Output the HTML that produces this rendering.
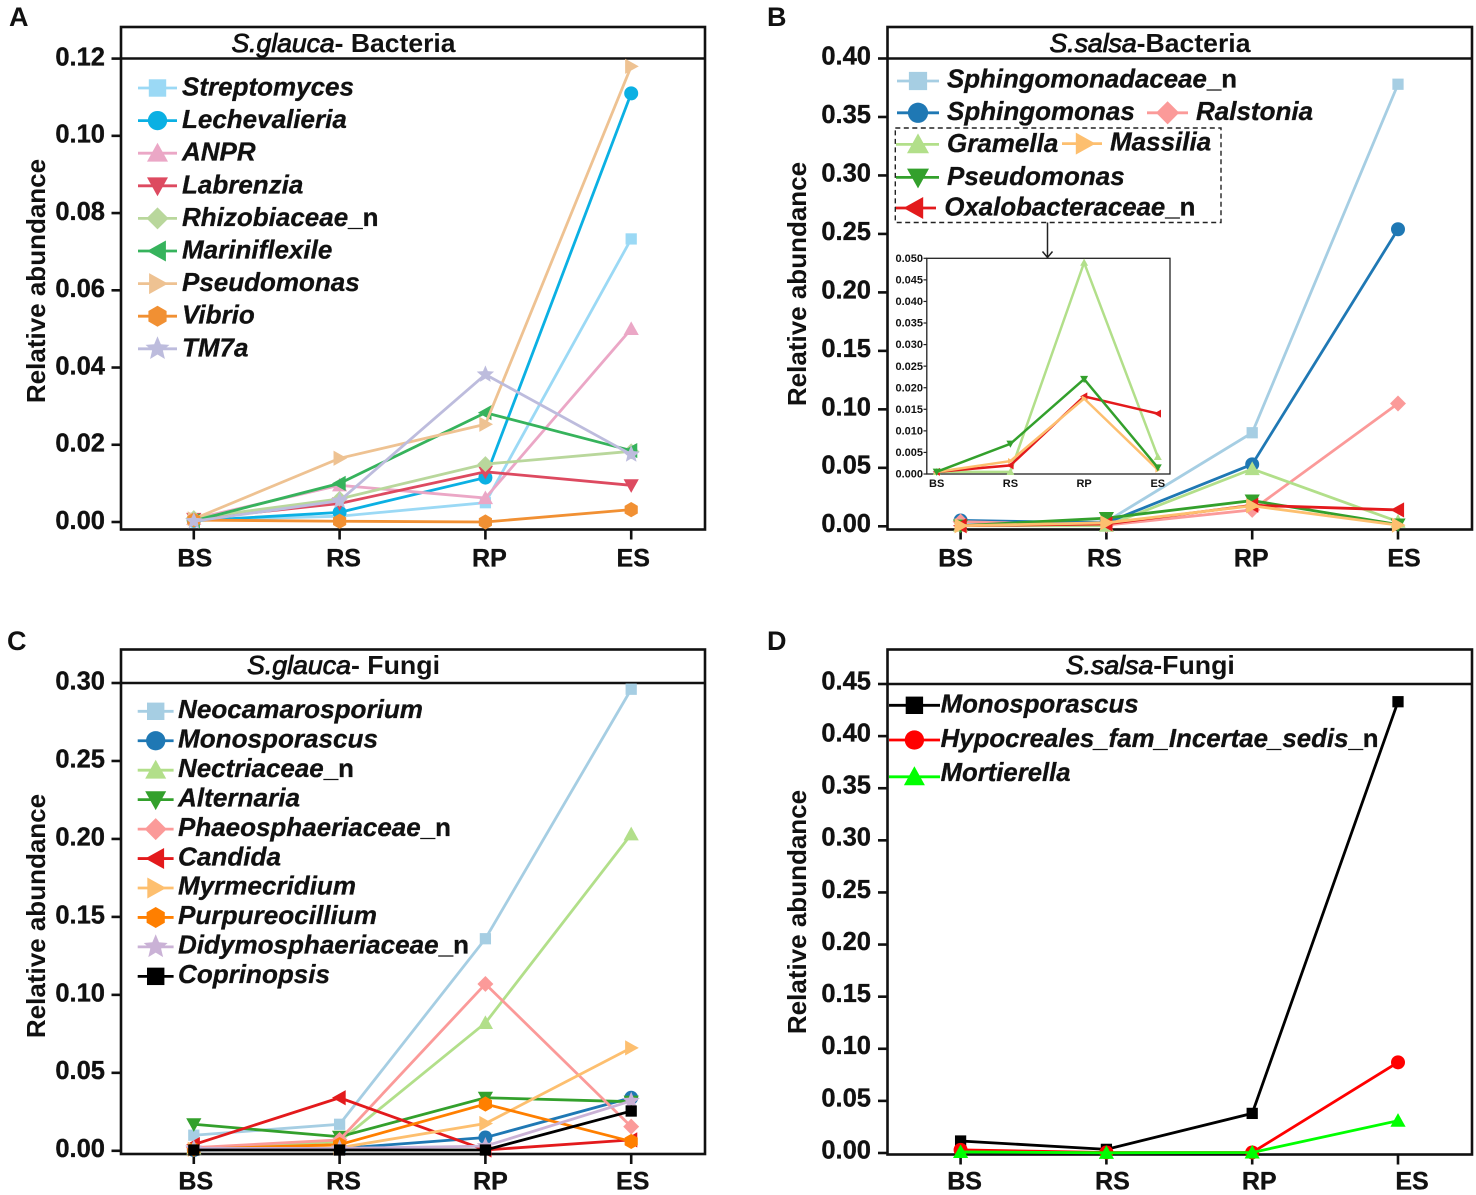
<!DOCTYPE html>
<html lang="en">
<head>
<meta charset="utf-8">
<title>Relative abundance charts</title>
<style>
html,body{margin:0;padding:0;background:#fff}
svg{display:block}
text{font-family:"Liberation Sans",Arial,sans-serif;fill:#111}
.tick{font-size:25.5px;font-weight:700;stroke:#111;stroke-width:.35px}
.cat{font-size:25px;font-weight:700;stroke:#111;stroke-width:.35px}
.ytitle{font-size:26px;font-weight:700}
.letter{font-size:27px;font-weight:700}
.leg{font-size:26px;font-weight:700;font-style:italic;stroke:#111;stroke-width:.3px}
.leg .up{font-style:normal}
.ttl{font-size:26px;font-weight:700}
.ttl .sp{font-style:italic;font-weight:400;stroke:#111;stroke-width:.85px}
.in{font-size:11px;font-weight:700}
</style>
</head>
<body>
<svg id="figure" width="1476" height="1195" viewBox="0 0 1476 1195" xmlns="http://www.w3.org/2000/svg">
  <rect width="1476" height="1195" fill="#fff"/>

  <text class="letter" x="9" y="26">A</text>
  <text class="letter" x="767" y="26">B</text>
  <text class="letter" x="7" y="650">C</text>
  <text class="letter" x="767" y="650">D</text>

  <g id="panel-a">
    <rect x="121" y="27" width="584" height="502.5" fill="none" stroke="#111" stroke-width="2.6"/>
    <line x1="121" y1="58.5" x2="705" y2="58.5" stroke="#111" stroke-width="2.6"/>
    <text class="ttl" x="231.5" y="52" textLength="224" lengthAdjust="spacingAndGlyphs"><tspan class="sp">S.glauca</tspan>- Bacteria</text>
    <text class="ytitle" transform="translate(45,281) rotate(-90)" text-anchor="middle">Relative abundance</text>
    <g id="a-legend">
      <text class="leg" x="182" y="95.5">Streptomyces</text>
      <text class="leg" x="182" y="128.1">Lechevalieria</text>
      <text class="leg" x="182" y="160.7">ANPR</text>
      <text class="leg" x="182" y="193.3">Labrenzia</text>
      <text class="leg" x="182" y="225.9">Rhizobiaceae<tspan class="up">_n</tspan></text>
      <text class="leg" x="182" y="258.5">Mariniflexile</text>
      <text class="leg" x="182" y="291.1">Pseudomonas</text>
      <text class="leg" x="182" y="323.7">Vibrio</text>
      <text class="leg" x="182" y="356.3">TM7a</text>
    </g>
  </g>

  <g id="panel-b">
    <rect x="887.5" y="27" width="584.5" height="502.5" fill="none" stroke="#111" stroke-width="2.6"/>
    <line x1="887.5" y1="58.5" x2="1472" y2="58.5" stroke="#111" stroke-width="2.6"/>
    <text class="ttl" x="1049.5" y="52" textLength="201" lengthAdjust="spacingAndGlyphs"><tspan class="sp">S.salsa</tspan>-Bacteria</text>
    <text class="ytitle" transform="translate(806,284) rotate(-90)" text-anchor="middle">Relative abundance</text>
    <g id="b-legend">
      <text class="leg" x="947" y="87.6" textLength="290" lengthAdjust="spacingAndGlyphs">Sphingomonadaceae<tspan class="up">_n</tspan></text>
      <text class="leg" x="947" y="119.8">Sphingomonas</text>
      <text class="leg" x="1196" y="119.8">Ralstonia</text>
      <text class="leg" x="947" y="152">Gramella</text>
      <text class="leg" x="1110" y="150.4">Massilia</text>
      <text class="leg" x="947" y="185">Pseudomonas</text>
      <text class="leg" x="944.4" y="215.4" textLength="251" lengthAdjust="spacingAndGlyphs">Oxalobacteraceae<tspan class="up">_n</tspan></text>
    </g>
    <rect x="895.3" y="128" width="325.7" height="94.5" fill="none" stroke="#222" stroke-width="1.4" stroke-dasharray="5 3.5"/>
    <path d="M1047.5 222.5V257.5M1042.5 251.5L1047.5 257.5L1052.5 251.5" fill="none" stroke="#222" stroke-width="1.5"/>
    <rect x="926.8" y="258.3" width="243.2" height="215.7" fill="#fff" stroke="#222" stroke-width="1.3"/>
  </g>

  <g id="panel-c">
    <rect x="121" y="649.5" width="584" height="504.5" fill="none" stroke="#111" stroke-width="2.6"/>
    <line x1="121" y1="683" x2="705" y2="683" stroke="#111" stroke-width="2.6"/>
    <text class="ttl" x="247" y="674" textLength="193" lengthAdjust="spacingAndGlyphs"><tspan class="sp">S.glauca</tspan>- Fungi</text>
    <text class="ytitle" transform="translate(45,916) rotate(-90)" text-anchor="middle">Relative abundance</text>
    <g id="c-legend">
      <text class="leg" x="178" y="718" textLength="245" lengthAdjust="spacingAndGlyphs">Neocamarosporium</text>
      <text class="leg" x="178" y="747.5" textLength="200" lengthAdjust="spacingAndGlyphs">Monosporascus</text>
      <text class="leg" x="178" y="776.9" textLength="176" lengthAdjust="spacingAndGlyphs">Nectriaceae<tspan class="up">_n</tspan></text>
      <text class="leg" x="178" y="806.4" textLength="122" lengthAdjust="spacingAndGlyphs">Alternaria</text>
      <text class="leg" x="178" y="835.8" textLength="273" lengthAdjust="spacingAndGlyphs">Phaeosphaeriaceae<tspan class="up">_n</tspan></text>
      <text class="leg" x="178" y="865.3" textLength="103" lengthAdjust="spacingAndGlyphs">Candida</text>
      <text class="leg" x="178" y="894.7" textLength="178" lengthAdjust="spacingAndGlyphs">Myrmecridium</text>
      <text class="leg" x="178" y="924.2" textLength="199" lengthAdjust="spacingAndGlyphs">Purpureocillium</text>
      <text class="leg" x="178" y="953.6" textLength="291" lengthAdjust="spacingAndGlyphs">Didymosphaeriaceae<tspan class="up">_n</tspan></text>
      <text class="leg" x="178" y="983.1" textLength="152" lengthAdjust="spacingAndGlyphs">Coprinopsis</text>
    </g>
  </g>

  <g id="panel-d">
    <rect x="887.5" y="649.5" width="584.5" height="505" fill="none" stroke="#111" stroke-width="2.6"/>
    <line x1="887.5" y1="684" x2="1472" y2="684" stroke="#111" stroke-width="2.6"/>
    <text class="ttl" x="1065.8" y="674" textLength="169" lengthAdjust="spacingAndGlyphs"><tspan class="sp">S.salsa</tspan>-Fungi</text>
    <text class="ytitle" transform="translate(806,912) rotate(-90)" text-anchor="middle">Relative abundance</text>
    <g id="d-legend">
      <text class="leg" x="940.6" y="712.6" textLength="198" lengthAdjust="spacingAndGlyphs">Monosporascus</text>
      <text class="leg" x="940.6" y="747" textLength="438" lengthAdjust="spacingAndGlyphs">Hypocreales_fam_Incertae_sedis<tspan class="up">_n</tspan></text>
      <text class="leg" x="940.6" y="781" textLength="130" lengthAdjust="spacingAndGlyphs">Mortierella</text>
    </g>
  </g>
</svg>

<script>
// ---- shared ----
const categories = ['BS', 'RS', 'RP', 'ES'];

// ---- panel A: S.glauca bacteria ----
const aTicks = ['0.00', '0.02', '0.04', '0.06', '0.08', '0.10', '0.12'];
const aStreptomyces = [0.0005, 0.0015, 0.005, 0.0733];
const aLechevalieria = [0.0003, 0.0025, 0.0115, 0.111];
const aAnpr = [0.0008, 0.0095, 0.0062, 0.05];
const aLabrenzia = [0.0008, 0.0048, 0.013, 0.0095];
const aRhizobiaceae = [0.001, 0.006, 0.015, 0.0183];
const aMariniflexile = [0.0003, 0.01, 0.0283, 0.0185];
const aPseudomonas = [0.0008, 0.0165, 0.0253, 0.118];
const aVibrio = [0.0005, 0.0002, 0, 0.0032];
const aTm7a = [0.0002, 0.0055, 0.0382, 0.0175];

// ---- panel B: S.salsa bacteria ----
const bTicks = ['0.00', '0.05', '0.10', '0.15', '0.20', '0.25', '0.30', '0.35', '0.40'];
const bInsetTicks = ['0.000', '0.005', '0.010', '0.015', '0.020', '0.025', '0.030', '0.035', '0.040', '0.045', '0.050'];
const bSphingomonadaceae = [0.003, 0.004, 0.08, 0.378];
const bSphingomonas = [0.005, 0.003, 0.053, 0.254];
const bRalstonia = [0.004, 0.001, 0.014, 0.105];
const bGramella = [0.0005, 0.0005, 0.049, 0.004];
const bMassilia = [0.0005, 0.003, 0.0175, 0.001];
const bPseudomonas = [0.0005, 0.007, 0.022, 0.0015];
const bOxalobacteraceae = [0.0005, 0.002, 0.018, 0.014];

// ---- panel C: S.glauca fungi ----
const cTicks = ['0.00', '0.05', '0.10', '0.15', '0.20', '0.25', '0.30'];
const cNeocamarosporium = [0.01, 0.017, 0.136, 0.296];
const cMonosporascus = [0.0005, 0.0015, 0.0085, 0.034];
const cNectriaceae = [0.0015, 0.006, 0.082, 0.203];
const cAlternaria = [0.017, 0.009, 0.034, 0.0315];
const cPhaeosphaeriaceae = [0.002, 0.007, 0.107, 0.0155];
const cCandida = [0.004, 0.034, 0.0005, 0.007];
const cMyrmecridium = [0.001, 0.002, 0.0175, 0.066];
const cPurpureocillium = [0.001, 0.004, 0.03, 0.006];
const cDidymosphaeriaceae = [0.0015, 0.0015, 0.003, 0.032];
const cCoprinopsis = [0.0005, 0.0005, 0.0005, 0.0255];

// ---- panel D: S.salsa fungi ----
const dTicks = ['0.00', '0.05', '0.10', '0.15', '0.20', '0.25', '0.30', '0.35', '0.40', '0.45'];
const dMonosporascus = [0.0115, 0.0035, 0.038, 0.433];
const dHypocreales = [0.003, 0.0005, 0.0005, 0.087];
const dMortierella = [0.001, 0.0002, 0.0005, 0.031];

// ---- drawing ----
const NS = 'http://www.w3.org/2000/svg';
function make(tag, attrs, parent) {
  const node = document.createElementNS(NS, tag);
  for (const k in attrs) node.setAttribute(k, attrs[k]);
  parent.appendChild(node);
  return node;
}
function pts(list) {
  return list.map(function (p) { return p[0].toFixed(2) + ',' + p[1].toFixed(2); }).join(' ');
}
function star(cx, cy, r) {
  const out = [];
  for (let i = 0; i < 10; i++) {
    const rad = i % 2 ? r * 0.45 : r;
    const a = -Math.PI / 2 + i * Math.PI / 5;
    out.push([cx + rad * Math.cos(a), cy + rad * Math.sin(a)]);
  }
  return out;
}
function hexagon(cx, cy, r) {
  const out = [];
  for (let i = 0; i < 6; i++) {
    const a = -Math.PI / 2 + i * Math.PI / 3;
    out.push([cx + r * Math.cos(a), cy + r * Math.sin(a)]);
  }
  return out;
}
function drawMarker(type, cx, cy, r, color, parent) {
  if (type === 'circle') return make('circle', { cx: cx, cy: cy, r: r * 0.92, fill: color }, parent);
  if (type === 'square' ) {
    const s = r * 0.74;
    return make('rect', { x: cx - s, y: cy - s, width: 2 * s, height: 2 * s, fill: color }, parent);
  }
  let p;
  if (type === 'up') p = [[cx, cy - r], [cx + r, cy + r * 0.8], [cx - r, cy + r * 0.8]];
  if (type === 'down') p = [[cx, cy + r], [cx + r, cy - r * 0.8], [cx - r, cy - r * 0.8]];
  if (type === 'left') p = [[cx - r, cy], [cx + r * 0.8, cy - r], [cx + r * 0.8, cy + r]];
  if (type === 'right') p = [[cx + r, cy], [cx - r * 0.8, cy - r], [cx - r * 0.8, cy + r]];
  if (type === 'diamond') p = [[cx, cy - r * 1.05], [cx + r * 1.05, cy], [cx, cy + r * 1.05], [cx - r * 1.05, cy]];
  if (type === 'hexagon') p = hexagon(cx, cy, r);
  if (type === 'star') p = star(cx, cy, r * 1.2);
  return make('polygon', { points: pts(p), fill: color }, parent);
}
function slug(name) {
  return name.toLowerCase().replace(/[^a-z0-9]+/g, '-').replace(/^-|-$/g, '');
}
function linearY(px0, pxTop, maxValue) {
  return function (v) { return px0 + (pxTop - px0) * v / maxValue; };
}
function bandX(first, step) {
  return function (i) { return first + i * step; };
}

function drawAxes(root, xf, yf, ticks, tickX0, labelRight, labelDy, axisY, catOffsets, catY) {
  ticks.forEach(function (label) {
    const y = yf(parseFloat(label));
    const t = make('line', { x1: tickX0 - 9.5, x2: tickX0, y1: y, y2: y, stroke: '#111', 'stroke-width': 2.6 }, root);
    
    
    const lab = make('text', { class: 'tick', x: labelRight, y: y + labelDy, 'text-anchor': 'end' }, root);
    lab.textContent = label;
    
    
  });
  categories.forEach(function (label, i) {
    const x = xf(i);
    const t = make('line', { x1: x, x2: x, y1: axisY, y2: axisY + 10, stroke: '#111', 'stroke-width': 2.6 }, root);
    
    
    const lab = make('text', { class: 'cat', x: x + catOffsets[i], y: catY, 'text-anchor': 'middle' }, root);
    lab.textContent = label;
    
    
  });
}

function drawSeries(root, name, values, color, marker, xf, yf, width, r) {
  const g = make('g', {}, root);
  
  
  const line = make('polyline', {
    points: pts(values.map(function (v, i) { return [xf(i), yf(v)]; })),
    fill: 'none', stroke: color, 'stroke-width': width, 'stroke-linejoin': 'miter'
  }, g);
  
  
  values.forEach(function (v, i) {
    const m = drawMarker(marker, xf(i), yf(v), r, color, g);
    
    
  });
}

function drawHandle(root, color, marker, x1, x2, cx, y, r) {
  const g = make('g', {}, root);
  
  
  make('line', { x1: x1, x2: x2, y1: y, y2: y, stroke: color, 'stroke-width': 2.8 }, g);
  drawMarker(marker, cx, y, marker === 'square' ? r * 1.12 : r, color, g);
}

const el = function (id) { return document.getElementById(id); };

// Panel A
(function () {
  const root = el('panel-a');
  const xf = bandX(193.8, 145.8);
  const yf = linearY(522, 58.6, 0.12);
  drawAxes(root, xf, yf, aTicks, 121, 105, 6.8, 529.5, [1, 4, 4, 2], 566.5);
  const names = ['Streptomyces', 'Lechevalieria', 'ANPR', 'Labrenzia', 'Rhizobiaceae_n', 'Mariniflexile', 'Pseudomonas', 'Vibrio', 'TM7a'];
  const vals = [aStreptomyces, aLechevalieria, aAnpr, aLabrenzia, aRhizobiaceae, aMariniflexile, aPseudomonas, aVibrio, aTm7a];
  const colors = ['#9bd9f5', '#0bb0e3', '#eba7c6', '#dd4a60', '#b9d79c', '#36b35c', '#eec292', '#f19033', '#bdbcdd'];
  const marks = ['square', 'circle', 'up', 'down', 'diamond', 'left', 'right', 'hexagon', 'star'];
  names.forEach(function (n, i) { drawSeries(root, n, vals[i], colors[i], marks[i], xf, yf, 2.8, 7.6); });
  names.forEach(function (n, i) { drawHandle(el('a-legend'), colors[i], marks[i], 138, 177, 157.5, 88 + 32.6 * i, 10.5); });
})();

// Panel B
(function () {
  const root = el('panel-b');
  const xf = bandX(960.6, 145.8);
  const yf = linearY(526.3, 58.5, 0.4);
  drawAxes(root, xf, yf, bTicks, 887.5, 871, 5.9, 529.5, [-5, -2, -1, 6], 566.5);
  const names = ['Sphingomonadaceae_n', 'Sphingomonas', 'Ralstonia', 'Gramella', 'Pseudomonas', 'Oxalobacteraceae_n', 'Massilia'];
  const vals = [bSphingomonadaceae, bSphingomonas, bRalstonia, bGramella, bPseudomonas, bOxalobacteraceae, bMassilia];
  const colors = ['#a6cee3', '#1f78b4', '#fb9a99', '#b2df8a', '#33a02c', '#e31a1c', '#fdbf6f'];
  const marks = ['square', 'circle', 'diamond', 'up', 'down', 'left', 'right'];
  const legX1 = [897, 897, 1147, 896, 896, 895, 1062];
  const legX2 = [939, 939, 1188, 939, 939, 936, 1102];
  const legC = [918, 918, 1167.6, 918, 918, 914.4, 1084.6];
  const legY = [81, 112.8, 112.8, 144.4, 177.4, 208, 143.6];
  names.forEach(function (n, i) { drawSeries(root, n, vals[i], colors[i], marks[i], xf, yf, 2.8, 7.6); });
  names.forEach(function (n, i) { drawHandle(el('b-legend'), colors[i], marks[i], legX1[i], legX2[i], legC[i], legY[i], 11); });

  // inset zoom of the four low-abundance genera
  const inset = make('g', {}, root);
  
  
  const ix = bandX(936.7, 73.7);
  const iy = linearY(474, 258.3, 0.05);
  bInsetTicks.forEach(function (label) {
    const y = iy(parseFloat(label));
    const t = make('line', { x1: 923.5, x2: 926.8, y1: y, y2: y, stroke: '#222', 'stroke-width': 1.2 }, inset);
    
    
    const lab = make('text', { class: 'in', x: 923, y: y + 3.6, 'text-anchor': 'end' }, inset);
    lab.textContent = label;
    
    
  });
  categories.forEach(function (label, i) {
    const lab = make('text', { class: 'in', x: ix(i), y: 487, 'text-anchor': 'middle' }, inset);
    lab.textContent = label;
    
    
  });
  drawSeries(inset, 'inset-gramella', bGramella, '#b2df8a', 'up', ix, iy, 2.5, 4);
  drawSeries(inset, 'inset-oxalobacteraceae', bOxalobacteraceae, '#e31a1c', 'left', ix, iy, 2.5, 4);
  drawSeries(inset, 'inset-massilia', bMassilia, '#fdbf6f', 'right', ix, iy, 2.5, 3);
  drawSeries(inset, 'inset-pseudomonas', bPseudomonas, '#33a02c', 'down', ix, iy, 2.5, 4);
})();

// Panel C
(function () {
  const root = el('panel-c');
  const xf = bandX(193.8, 145.8);
  const yf = linearY(1150.8, 683, 0.3);
  drawAxes(root, xf, yf, cTicks, 121, 105, 6.4, 1154, [2, 4, 5, 1.5], 1189.5);
  const names = ['Neocamarosporium', 'Monosporascus', 'Nectriaceae_n', 'Alternaria', 'Phaeosphaeriaceae_n', 'Candida', 'Myrmecridium', 'Purpureocillium', 'Didymosphaeriaceae_n', 'Coprinopsis'];
  const vals = [cNeocamarosporium, cMonosporascus, cNectriaceae, cAlternaria, cPhaeosphaeriaceae, cCandida, cMyrmecridium, cPurpureocillium, cDidymosphaeriaceae, cCoprinopsis];
  const colors = ['#a6cee3', '#1f78b4', '#b2df8a', '#33a02c', '#fb9a99', '#e31a1c', '#fdbf6f', '#ff7f00', '#cab2d6', '#000000'];
  const marks = ['square', 'circle', 'up', 'down', 'diamond', 'left', 'right', 'hexagon', 'star', 'square'];
  names.forEach(function (n, i) { drawSeries(root, n, vals[i], colors[i], marks[i], xf, yf, 2.8, 7.6); });
  names.forEach(function (n, i) { drawHandle(el('c-legend'), colors[i], marks[i], 137.7, 173.6, 155.7, 711.3 + 29.45 * i, 10.5); });
})();

// Panel D
(function () {
  const root = el('panel-d');
  const xf = bandX(960.6, 145.8);
  const yf = linearY(1153, 684, 0.45);
  drawAxes(root, xf, yf, dTicks, 887.5, 871, 5.4, 1154.5, [4, 6, 7, 14], 1189.5);
  const names = ['Monosporascus', 'Hypocreales_fam_Incertae_sedis_n', 'Mortierella'];
  const vals = [dMonosporascus, dHypocreales, dMortierella];
  const colors = ['#000000', '#ff0000', '#00ff00'];
  const marks = ['square', 'circle', 'up'];
  const legY = [705.3, 740, 776.8];
  names.forEach(function (n, i) { drawSeries(root, n, vals[i], colors[i], marks[i], xf, yf, 2.8, 7.6); });
  names.forEach(function (n, i) { drawHandle(el('d-legend'), colors[i], marks[i], 889, 940, 914.4, legY[i], 10.5); });
})();
</script>
</body>
</html>
